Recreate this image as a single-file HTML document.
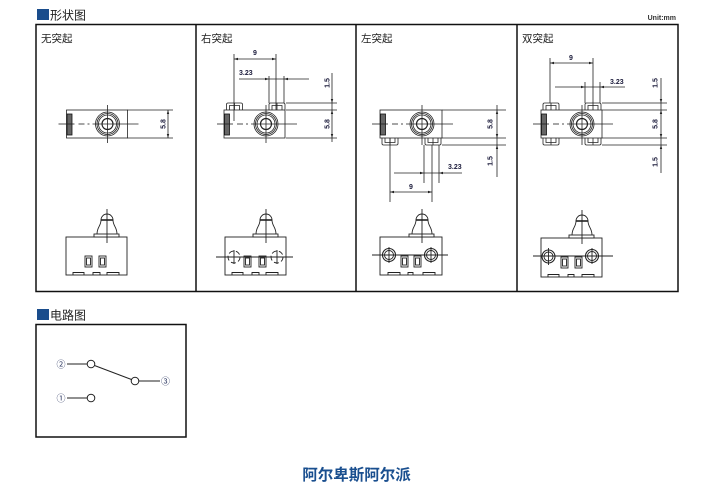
<!DOCTYPE html>
<html><head><meta charset="utf-8">
<style>
html,body{margin:0;padding:0;background:#fff;}
svg{display:block;}
text{font-family:"Liberation Sans","Noto Sans CJK SC",sans-serif;}
</style></head>
<body>
<svg width="718" height="493" viewBox="0 0 718 493" xmlns="http://www.w3.org/2000/svg">
<rect width="718" height="493" fill="#fff"/>

<!-- headers -->
<rect x="37" y="9" width="12" height="11" fill="#1a4d8c"/>
<text x="50" y="19.5" font-size="12" fill="#222">形状图</text>
<text x="676" y="20" font-size="7" font-weight="bold" fill="#333" text-anchor="end">Unit:mm</text>

<!-- table -->
<g stroke="#111" stroke-width="1.5" fill="none">
<rect x="36" y="24.5" width="642" height="267"/>
<line x1="196" y1="24.5" x2="196" y2="291.5"/>
<line x1="356" y1="24.5" x2="356" y2="291.5"/>
<line x1="517" y1="24.5" x2="517" y2="291.5"/>
</g>
<g font-size="10.5" fill="#222">
<text x="41" y="42">无突起</text>
<text x="201" y="42">右突起</text>
<text x="361" y="42">左突起</text>
<text x="522" y="42">双突起</text>
</g>

<!-- ================= TOP VIEWS ================= -->
<g stroke="#222" stroke-width="0.8" fill="none">
<!-- Panel 1 -->
<g transform="translate(107.5,0)">
<rect x="-41" y="110" width="61" height="28" fill="#fff"/>
<rect x="-40.5" y="114" width="5" height="21" fill="#666" stroke="#111"/>
<circle cx="0" cy="124" r="12"/><circle cx="0" cy="124" r="10.5"/><circle cx="0" cy="124" r="9"/>
<circle cx="0" cy="124" r="5.5" stroke-width="1.2"/>
<line x1="0" y1="105" x2="0" y2="143"/>
<line x1="-49" y1="124" x2="-33" y2="124"/><line x1="-29" y1="124" x2="-23" y2="124"/><line x1="-20" y1="124" x2="-18" y2="124"/><line x1="-15" y1="124" x2="31" y2="124"/>
</g>
<line x1="127" y1="110" x2="173" y2="110"/><line x1="127" y1="138" x2="173" y2="138"/>
<line x1="168" y1="110" x2="168" y2="138"/>

<!-- Panel 2 -->
<g transform="translate(266,0)">
<rect x="-42" y="110" width="61" height="28" fill="#fff"/>
<path d="M-39.5 110V104.5Q-39.5 103 -38 103H-25Q-23.5 103 -23.5 104.5V110M-36.5 110V105.5H-26.5V110M-31.5 103V110"/>
<path d="M3 110V104.5Q3 103 4.5 103H17.5Q19 103 19 104.5V110M6 110V105.5H16V110M11 103V110"/>
<rect x="-41.5" y="114" width="5" height="21" fill="#666" stroke="#111"/>
<circle cx="0" cy="124" r="12"/><circle cx="0" cy="124" r="10.5"/><circle cx="0" cy="124" r="9"/>
<circle cx="0" cy="124" r="5.5" stroke-width="1.2"/>
<line x1="0" y1="105" x2="0" y2="143"/>
<line x1="-49" y1="124" x2="-33" y2="124"/><line x1="-29" y1="124" x2="-23" y2="124"/><line x1="-20" y1="124" x2="-18" y2="124"/><line x1="-15" y1="124" x2="31" y2="124"/>
</g>
<line x1="234" y1="54" x2="234" y2="121"/><line x1="276" y1="54" x2="276" y2="110"/>
<line x1="234" y1="59" x2="276" y2="59"/>
<line x1="269" y1="76" x2="269" y2="103"/><line x1="284" y1="76" x2="284" y2="103"/>
<line x1="239" y1="79" x2="309" y2="79"/>
<line x1="286" y1="103" x2="337" y2="103"/><line x1="286" y1="110" x2="337" y2="110"/><line x1="286" y1="138" x2="337" y2="138"/>
<line x1="332" y1="73" x2="332" y2="142"/>

<!-- Panel 3 -->
<g transform="translate(422,0)">
<rect x="-42" y="110" width="62" height="28" fill="#fff"/>
<path d="M-40 138V143.5Q-40 145 -38.5 145H-25.5Q-24 145 -24 143.5V138M-37 138V142.5H-27V138M-32 138V145"/>
<path d="M3 138V143.5Q3 145 4.5 145H17.5Q19 145 19 143.5V138M6 138V142.5H16V138M11 138V145"/>
<rect x="-41.5" y="114" width="5" height="21" fill="#666" stroke="#111"/>
<circle cx="0" cy="124" r="12"/><circle cx="0" cy="124" r="10.5"/><circle cx="0" cy="124" r="9"/>
<circle cx="0" cy="124" r="5.5" stroke-width="1.2"/>
<line x1="0" y1="105" x2="0" y2="145"/>
<line x1="-50" y1="124" x2="-34" y2="124"/><line x1="-30" y1="124" x2="-24" y2="124"/><line x1="-21" y1="124" x2="-19" y2="124"/><line x1="-16" y1="124" x2="31" y2="124"/>
</g>
<line x1="442" y1="110" x2="506" y2="110"/><line x1="442" y1="138" x2="506" y2="138"/><line x1="442" y1="145" x2="506" y2="145"/>
<line x1="497" y1="105" x2="497" y2="177"/>
<line x1="424" y1="145" x2="424" y2="183"/><line x1="439" y1="145" x2="439" y2="183"/>
<line x1="394" y1="173" x2="462" y2="173"/>
<line x1="390" y1="138" x2="390" y2="202"/><line x1="432" y1="145" x2="432" y2="202"/>
<line x1="390" y1="192" x2="432" y2="192"/>

<!-- Panel 4 -->
<g transform="translate(582,0)">
<rect x="-41" y="110" width="61" height="28" fill="#fff"/>
<path d="M-39 110V104.5Q-39 103 -37.5 103H-24.5Q-23 103 -23 104.5V110M-36 110V105.5H-26V110M-31 103V110"/>
<path d="M3 110V104.5Q3 103 4.5 103H17.5Q19 103 19 104.5V110M6 110V105.5H16V110M11 103V110"/>
<path d="M-39 138V143.5Q-39 145 -37.5 145H-24.5Q-23 145 -23 143.5V138M-36 138V142.5H-26V138M-31 138V145"/>
<path d="M3 138V143.5Q3 145 4.5 145H17.5Q19 145 19 143.5V138M6 138V142.5H16V138M11 138V145"/>
<rect x="-40.5" y="114" width="5" height="21" fill="#666" stroke="#111"/>
<circle cx="0" cy="124" r="12"/><circle cx="0" cy="124" r="10.5"/><circle cx="0" cy="124" r="9"/>
<circle cx="0" cy="124" r="5.5" stroke-width="1.2"/>
<line x1="0" y1="105" x2="0" y2="145"/>
<line x1="-49" y1="124" x2="-33" y2="124"/><line x1="-29" y1="124" x2="-23" y2="124"/><line x1="-20" y1="124" x2="-18" y2="124"/><line x1="-15" y1="124" x2="31" y2="124"/>
</g>
<line x1="550" y1="58" x2="550" y2="103"/><line x1="593" y1="58" x2="593" y2="103"/>
<line x1="550" y1="63" x2="593" y2="63"/>
<line x1="585" y1="82" x2="585" y2="103"/><line x1="600" y1="82" x2="600" y2="103"/>
<line x1="555" y1="87" x2="625" y2="87"/>
<line x1="602" y1="103" x2="667" y2="103"/><line x1="602" y1="110" x2="667" y2="110"/><line x1="602" y1="138" x2="667" y2="138"/><line x1="602" y1="145" x2="667" y2="145"/>
<line x1="661" y1="78" x2="661" y2="173"/>
</g>

<!-- arrowheads -->
<g fill="#222">
<polygon points="168,110 166.8,114 169.2,114"/><polygon points="168,138 166.8,134 169.2,134"/>
<polygon points="234,59 238,57.8 238,60.2"/><polygon points="276,59 272,57.8 272,60.2"/>
<polygon points="269,79 265,77.8 265,80.2"/><polygon points="284,79 288,77.8 288,80.2"/>
<polygon points="332,103 330.8,99 333.2,99"/><polygon points="332,110 330.8,114 333.2,114"/><polygon points="332,138 330.8,134 333.2,134"/>
<polygon points="497,110 495.8,114 498.2,114"/><polygon points="497,138 495.8,134 498.2,134"/><polygon points="497,145 495.8,149 498.2,149"/>
<polygon points="424,173 420,171.8 420,174.2"/><polygon points="439,173 443,171.8 443,174.2"/>
<polygon points="390,192 394,190.8 394,193.2"/><polygon points="432,192 428,190.8 428,193.2"/>
<polygon points="550,63 554,61.8 554,64.2"/><polygon points="593,63 589,61.8 589,64.2"/>
<polygon points="585,87 581,85.8 581,88.2"/><polygon points="600,87 604,85.8 604,88.2"/>
<polygon points="661,103 659.8,99 662.2,99"/><polygon points="661,110 659.8,114 662.2,114"/><polygon points="661,138 659.8,134 662.2,134"/><polygon points="661,145 659.8,149 662.2,149"/>
</g>

<!-- dimension texts -->
<g font-size="7" font-weight="bold" fill="#1a1a3a">
<text x="255" y="55" text-anchor="middle">9</text>
<text x="239" y="75">3.23</text>
<text x="411" y="189" text-anchor="middle">9</text>
<text x="448" y="169">3.23</text>
<text x="571" y="60" text-anchor="middle">9</text>
<text x="610" y="84">3.23</text>
<text transform="translate(165.5,124) rotate(-90)" text-anchor="middle">5.8</text>
<text transform="translate(329.5,83) rotate(-90)" text-anchor="middle">1.5</text>
<text transform="translate(329.5,124) rotate(-90)" text-anchor="middle">5.8</text>
<text transform="translate(492.5,124) rotate(-90)" text-anchor="middle">5.8</text>
<text transform="translate(492.5,161) rotate(-90)" text-anchor="middle">1.5</text>
<text transform="translate(657.5,83) rotate(-90)" text-anchor="middle">1.5</text>
<text transform="translate(657.5,124) rotate(-90)" text-anchor="middle">5.8</text>
<text transform="translate(657.5,162) rotate(-90)" text-anchor="middle">1.5</text>
</g>

<!-- ================= FRONT VIEWS ================= -->
<g stroke="#222" stroke-width="0.9" fill="none">
<!-- generic front view body drawn 4 times -->
<g transform="translate(107,0)">
<rect x="-41" y="237" width="61" height="38"/>
<rect x="-13" y="234" width="25" height="3" fill="#fff"/>
<path d="M-10 234C-10 227 -6 226 -6 220A6 6 0 0 1 6 220C6 226 10 227 10 234"/>
<line x1="-6" y1="220" x2="6" y2="220" stroke-width="1.6"/>
<line x1="0" y1="209" x2="0" y2="243"/>
<rect x="-22" y="256" width="7" height="11"/><rect x="-20.5" y="258" width="4" height="7"/>
<rect x="-8" y="256" width="7" height="11"/><rect x="-6.5" y="258" width="4" height="7"/>
<path d="M-34 275V272.5H-23V275M-14 275V272.5H-7V275M0 275V272.5H12V275"/>
</g>
<g transform="translate(266,0)">
<rect x="-41" y="237" width="61" height="38" fill="#fff"/>
<rect x="-13" y="234" width="25" height="3" fill="#fff"/>
<path d="M-10 234C-10 227 -6 226 -6 220A6 6 0 0 1 6 220C6 226 10 227 10 234"/>
<line x1="-6" y1="220" x2="6" y2="220" stroke-width="1.6"/>
<line x1="0" y1="209" x2="0" y2="243"/>
<rect x="-22" y="256" width="7" height="11"/><rect x="-20.5" y="258" width="4" height="7"/>
<rect x="-7" y="256" width="7" height="11"/><rect x="-5.5" y="258" width="4" height="7"/>
<path d="M-34 275V272.5H-23V275M-14 275V272.5H-7V275M0 275V272.5H12V275"/>
<circle cx="-32" cy="257" r="6" stroke-dasharray="5,2.5"/>
<circle cx="11" cy="257" r="6" stroke-dasharray="5,2.5"/>
<line x1="-32" y1="250" x2="-32" y2="264"/><line x1="11" y1="250" x2="11" y2="264"/>
<line x1="-50" y1="257" x2="27" y2="257"/>
</g>
<g transform="translate(422,0)">
<rect x="-42" y="237" width="62" height="38" fill="#fff"/>
<rect x="-13" y="234" width="25" height="3" fill="#fff"/>
<path d="M-10 234C-10 227 -6 226 -6 220A6 6 0 0 1 6 220C6 226 10 227 10 234"/>
<line x1="-6" y1="220" x2="6" y2="220" stroke-width="1.6"/>
<line x1="0" y1="209" x2="0" y2="243"/>
<rect x="-21" y="256" width="7" height="11"/><rect x="-19.5" y="258" width="4" height="7"/>
<rect x="-8" y="256" width="7" height="11"/><rect x="-6.5" y="258" width="4" height="7"/>
<path d="M-34 275V272.5H-22V275M-14 275V272.5H-9V275M1 275V272.5H13V275"/>
<circle cx="-33" cy="255" r="6.5" stroke-width="1.1"/><circle cx="-33" cy="255" r="4.5"/>
<circle cx="9" cy="255" r="6.5" stroke-width="1.1"/><circle cx="9" cy="255" r="4.5"/>
<line x1="-33" y1="247" x2="-33" y2="263"/><line x1="9" y1="247" x2="9" y2="263"/>
<line x1="-50" y1="255" x2="26" y2="255"/>
</g>
<g transform="translate(582,0)">
<rect x="-41" y="238" width="61" height="39" fill="#fff"/>
<rect x="-13" y="235" width="25" height="3" fill="#fff"/>
<path d="M-10 235C-10 228 -6 227 -6 221A6 6 0 0 1 6 221C6 227 10 228 10 235"/>
<line x1="-6" y1="221" x2="6" y2="221" stroke-width="1.6"/>
<line x1="0" y1="210" x2="0" y2="244"/>
<rect x="-21" y="257" width="7" height="11"/><rect x="-19.5" y="259" width="4" height="7"/>
<rect x="-7" y="257" width="7" height="11"/><rect x="-5.5" y="259" width="4" height="7"/>
<path d="M-34 277V274.5H-23V277M-14 277V274.5H-8V277M0 277V274.5H12V277"/>
<circle cx="-33.5" cy="256.5" r="6.5" stroke-width="1.1"/><circle cx="-33.5" cy="256.5" r="4.5"/>
<circle cx="10" cy="256" r="6.5" stroke-width="1.1"/><circle cx="10" cy="256" r="4.5"/>
<line x1="-33.5" y1="248" x2="-33.5" y2="265"/><line x1="10" y1="248" x2="10" y2="264"/>
<line x1="-49" y1="256" x2="31" y2="256"/>
</g>
</g>

<!-- ================= CIRCUIT ================= -->
<rect x="37" y="309" width="12" height="11" fill="#1a4d8c"/>
<text x="50" y="319.5" font-size="12" fill="#222">电路图</text>
<rect x="36" y="324.5" width="150" height="112.5" fill="none" stroke="#111" stroke-width="1.5"/>
<g stroke="#222" stroke-width="1" fill="none">
<line x1="67" y1="364" x2="87" y2="364"/>
<line x1="94.5" y1="365.5" x2="131.5" y2="379.5"/>
<line x1="139" y1="381" x2="160" y2="381"/>
<line x1="67" y1="398" x2="87" y2="398"/>
<circle cx="91" cy="364" r="3.8" fill="#fff"/>
<circle cx="135" cy="381" r="3.8" fill="#fff"/>
<circle cx="91" cy="398" r="3.8" fill="#fff"/>
</g>
<g font-size="9" fill="#2a3560" text-anchor="middle">
<text x="61" y="367.5">②</text>
<text x="165.5" y="384.5">③</text>
<text x="61" y="401.5">①</text>
</g>

<!-- footer -->
<text x="356.5" y="480" font-size="15.5" font-weight="bold" fill="#1a4f8f" text-anchor="middle">阿尔卑斯阿尔派</text>
</svg>
</body></html>
